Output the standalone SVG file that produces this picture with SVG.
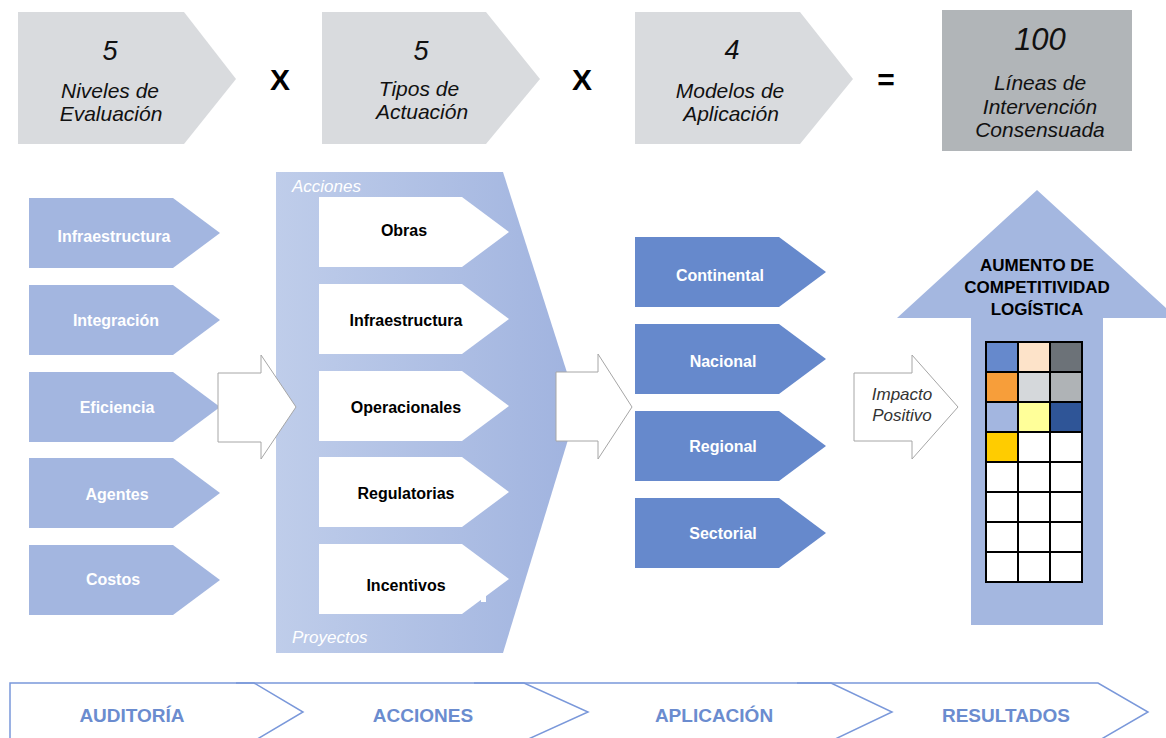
<svg xmlns="http://www.w3.org/2000/svg" width="1166" height="738" viewBox="0 0 1166 738">
  <defs>
    <linearGradient id="panelGrad" x1="276" y1="0" x2="578" y2="0" gradientUnits="userSpaceOnUse">
      <stop offset="0" stop-color="#bfcdea"/>
      <stop offset="1" stop-color="#a0b3df"/>
    </linearGradient>
    <style>
      text { font-family: "Liberation Sans", Arial, sans-serif; }
      .hdr { fill: #d9dbde; }
      .num { font-size: 27px; font-style: italic; text-anchor: middle; fill: #111; }
      .cap { font-size: 21px; font-style: italic; text-anchor: middle; fill: #111; }
      .op { font-size: 30px; font-weight: bold; text-anchor: middle; fill: #000; }
      .lvl { fill: #a3b6e0; }
      .lvl-t { font-size: 16px; font-weight: bold; fill: #fff; text-anchor: middle; }
      .act { fill: #fff; }
      .act-t { font-size: 16px; font-weight: bold; fill: #000; text-anchor: middle; }
      .mod { fill: #6689cc; }
      .flow { fill: #fff; stroke: #a6a6a6; stroke-width: 1; }
      .tag { font-size: 17px; font-style: italic; fill: #fff; }
      .cell { stroke: #000; stroke-width: 2; }
      .stage { fill: none; stroke: #7a98da; stroke-width: 1.5; }
      .stage-t { font-size: 19px; font-weight: bold; fill: #6b8ccf; text-anchor: middle; }
    </style>
  </defs>

  <!-- Formula header: 5 x 5 x 4 = 100 -->
  <g id="hdr-niveles">
    <polygon class="hdr" points="18,12 184,12 236,79 184,144 18,144"/>
    <text class="num" x="110" y="60">5</text>
    <text class="cap" x="110" y="98">Niveles de</text>
    <text class="cap" x="111" y="121">Evaluación</text>
  </g>
  <text class="op" x="280" y="90">X</text>
  <g id="hdr-tipos">
    <polygon class="hdr" points="322,12 486,12 540,79 486,144 322,144"/>
    <text class="num" x="421" y="60">5</text>
    <text class="cap" x="419" y="96">Tipos de</text>
    <text class="cap" x="422" y="119">Actuación</text>
  </g>
  <text class="op" x="582" y="90">X</text>
  <g id="hdr-modelos">
    <polygon class="hdr" points="635,12 800,12 853,79 800,144 635,144"/>
    <text class="num" x="732" y="59">4</text>
    <text class="cap" x="730" y="98">Modelos de</text>
    <text class="cap" x="731" y="121">Aplicación</text>
  </g>
  <text class="op" x="886" y="90">=</text>
  <g id="hdr-lineas">
    <rect x="942" y="10" width="190" height="141" fill="#b1b5b8"/>
    <text class="num" x="1040" y="50" style="font-size:31px">100</text>
    <text class="cap" x="1040" y="90">Líneas de</text>
    <text class="cap" x="1040" y="114">Intervención</text>
    <text class="cap" x="1040" y="137">Consensuada</text>
  </g>

  <!-- Evaluation levels -->
  <g id="lvl-infraestructura">
    <polygon class="lvl" points="29,198 173,198 220,233 173,268 29,268"/>
    <text class="lvl-t" x="114" y="242">Infraestructura</text>
  </g>
  <g id="lvl-integracion">
    <polygon class="lvl" points="29,285 173,285 220,320 173,355 29,355"/>
    <text class="lvl-t" x="116" y="326">Integración</text>
  </g>
  <g id="lvl-eficiencia">
    <polygon class="lvl" points="29,372 173,372 220,407 173,442 29,442"/>
    <text class="lvl-t" x="117" y="413">Eficiencia</text>
  </g>
  <g id="lvl-agentes">
    <polygon class="lvl" points="29,458 173,458 220,493 173,528 29,528"/>
    <text class="lvl-t" x="117" y="500">Agentes</text>
  </g>
  <g id="lvl-costos">
    <polygon class="lvl" points="29,545 173,545 220,580 173,615 29,615"/>
    <text class="lvl-t" x="113" y="585">Costos</text>
  </g>

  <!-- Actions panel -->
  <g id="acciones-panel">
    <polygon points="276,172 503,172 578,407 503,653 276,653" fill="url(#panelGrad)"/>
    <text class="tag" x="292" y="192">Acciones</text>
    <text class="tag" x="292" y="643">Proyectos</text>
  </g>
  <g id="act-obras">
    <polygon class="act" points="319,197 462,197 509,232 462,267 319,267"/>
    <text class="act-t" x="404" y="236">Obras</text>
  </g>
  <g id="act-infraestructura">
    <polygon class="act" points="319,284 462,284 509,319 462,354 319,354"/>
    <text class="act-t" x="406" y="326">Infraestructura</text>
  </g>
  <g id="act-operacionales">
    <polygon class="act" points="319,371 462,371 509,406 462,441 319,441"/>
    <text class="act-t" x="406" y="413">Operacionales</text>
  </g>
  <g id="act-regulatorias">
    <polygon class="act" points="319,457 462,457 509,492 462,527 319,527"/>
    <text class="act-t" x="406" y="499">Regulatorias</text>
  </g>
  <g id="act-incentivos">
    <polygon class="act" points="319,544 462,544 509,579 462,614 319,614"/>
    <rect x="481" y="594" width="5" height="8" fill="#fff"/>
    <text class="act-t" x="406" y="591">Incentivos</text>
  </g>

  <!-- Application models -->
  <g id="mod-continental">
    <polygon class="mod" points="635,237 779,237 826,272 779,307 635,307"/>
    <text class="lvl-t" x="720" y="281">Continental</text>
  </g>
  <g id="mod-nacional">
    <polygon class="mod" points="635,324 779,324 826,359 779,394 635,394"/>
    <text class="lvl-t" x="723" y="367">Nacional</text>
  </g>
  <g id="mod-regional">
    <polygon class="mod" points="635,411 779,411 826,446 779,481 635,481"/>
    <text class="lvl-t" x="723" y="452">Regional</text>
  </g>
  <g id="mod-sectorial">
    <polygon class="mod" points="635,498 779,498 826,533 779,568 635,568"/>
    <text class="lvl-t" x="723" y="539">Sectorial</text>
  </g>

  <!-- Result: competitiveness arrow with matrix -->
  <g id="resultado">
    <polygon points="1037,190 1177,318 1103,318 1103,625 971,625 971,318 897,318" fill="#a4b7e0"/>
    <g font-size="17" font-weight="bold" text-anchor="middle" fill="#000">
      <text x="1037" y="271">AUMENTO DE</text>
      <text x="1037" y="293">COMPETITIVIDAD</text>
      <text x="1037" y="315">LOGÍSTICA</text>
    </g>
    <g id="matriz">
      <rect class="cell" x="986" y="342" width="32" height="30" fill="#6689cc"/>
      <rect class="cell" x="1018" y="342" width="32" height="30" fill="#fde3c9"/>
      <rect class="cell" x="1050" y="342" width="32" height="30" fill="#6c7278"/>
      <rect class="cell" x="986" y="372" width="32" height="30" fill="#f79e3a"/>
      <rect class="cell" x="1018" y="372" width="32" height="30" fill="#d5d8db"/>
      <rect class="cell" x="1050" y="372" width="32" height="30" fill="#afb3b6"/>
      <rect class="cell" x="986" y="402" width="32" height="30" fill="#a3b6e0"/>
      <rect class="cell" x="1018" y="402" width="32" height="30" fill="#ffff99"/>
      <rect class="cell" x="1050" y="402" width="32" height="30" fill="#2f5597"/>
      <rect class="cell" x="986" y="432" width="32" height="30" fill="#ffcc00"/>
      <rect class="cell" x="1018" y="432" width="32" height="30" fill="#fff"/>
      <rect class="cell" x="1050" y="432" width="32" height="30" fill="#fff"/>
      <rect class="cell" x="986" y="462" width="32" height="30" fill="#fff"/>
      <rect class="cell" x="1018" y="462" width="32" height="30" fill="#fff"/>
      <rect class="cell" x="1050" y="462" width="32" height="30" fill="#fff"/>
      <rect class="cell" x="986" y="492" width="32" height="30" fill="#fff"/>
      <rect class="cell" x="1018" y="492" width="32" height="30" fill="#fff"/>
      <rect class="cell" x="1050" y="492" width="32" height="30" fill="#fff"/>
      <rect class="cell" x="986" y="522" width="32" height="30" fill="#fff"/>
      <rect class="cell" x="1018" y="522" width="32" height="30" fill="#fff"/>
      <rect class="cell" x="1050" y="522" width="32" height="30" fill="#fff"/>
      <rect class="cell" x="986" y="552" width="32" height="30" fill="#fff"/>
      <rect class="cell" x="1018" y="552" width="32" height="30" fill="#fff"/>
      <rect class="cell" x="1050" y="552" width="32" height="30" fill="#fff"/>
    </g>
  </g>

  <!-- Flow arrows between stages -->
  <g id="connectors">
    <polygon class="flow" points="218,373 261,373 261,355 296,407 261,459 261,442 218,442"/>
    <polygon class="flow" points="556,372 598,372 598,354 632,407 598,459 598,441 556,441"/>
    <polygon class="flow" points="854,373 912,373 912,355 958,407 912,459 912,441 854,441"/>
    <g font-size="17" font-style="italic" fill="#333" text-anchor="middle">
      <text x="902" y="400">Impacto</text>
      <text x="902" y="421">Positivo</text>
    </g>
  </g>

  <!-- Stage banner -->
  <g id="stages">
    <path class="stage" d="M10,741 L10,683 L254,683 L303,712 L254,741"/>
    <path class="stage" d="M236,683 L524,683 L588,712 L524,741"/>
    <path class="stage" d="M474,683 L831,683 L892,712 L831,741"/>
    <path class="stage" d="M797,683 L1098,683 L1148,712 L1098,741"/>
    <text class="stage-t" x="132" y="722">AUDITORÍA</text>
    <text class="stage-t" x="423" y="722">ACCIONES</text>
    <text class="stage-t" x="714" y="722">APLICACIÓN</text>
    <text class="stage-t" x="1006" y="722">RESULTADOS</text>
  </g>
</svg>
